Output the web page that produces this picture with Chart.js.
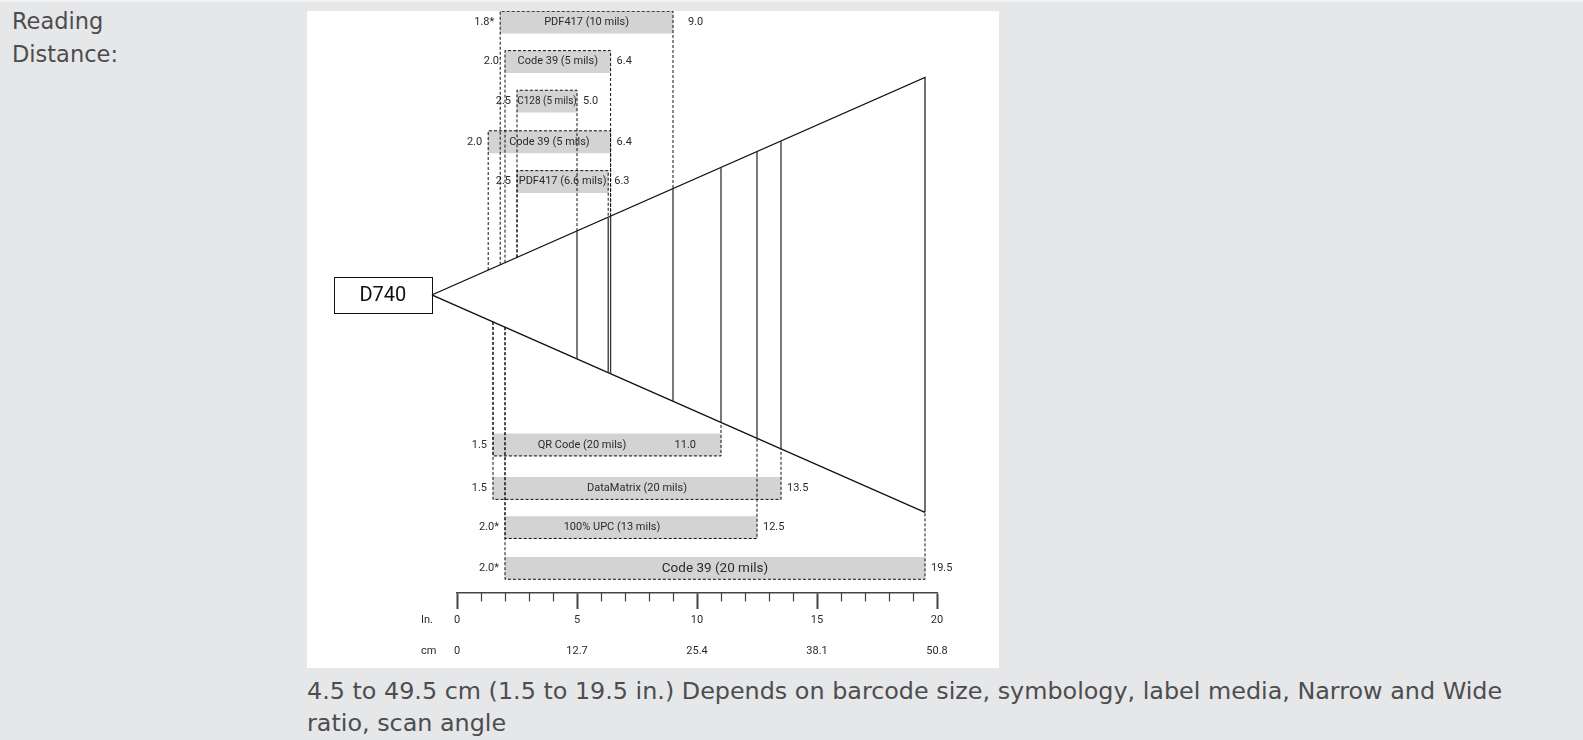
<!DOCTYPE html>
<html>
<head>
<meta charset="utf-8">
<title>Reading Distance</title>
<script src="https://cdn.jsdelivr.net/npm/chart.js@4.4.1/dist/chart.umd.min.js"></script>
<style>
    html, body { margin: 0; padding: 0; }
    body {
        width: 1583px;
        height: 740px;
        background: #e6e7e8;
        position: relative;
        overflow: hidden;
        font-family: "DejaVu Sans", sans-serif;
        color: #4d4d4f;
    }
    .top-band { position: absolute; left: 0; top: 0; width: 1583px; height: 2px; background: #f3f3f4; }
    .heading { position: absolute; left: 12px; top: 5px; font-size: 22.5px; line-height: 33px; }
    .chart-box { position: absolute; left: 307px; top: 11px; width: 692px; height: 657px; background: #fff; }
    .caption { position: absolute; left: 307px; top: 675px; width: 1240px; font-size: 23.85px; line-height: 32.4px; }
</style>
</head>
<body>
<div class="top-band"></div>
<div class="heading">Reading<br>Distance:</div>
<div class="chart-box"><canvas id="range-chart"></canvas></div>
<div class="caption">4.5 to 49.5 cm (1.5 to 19.5 in.) Depends on barcode size, symbology, label media, Narrow and Wide ratio, scan angle</div>

<script>
// Reading range per symbology (distances in inches)
const symbols = ['PDF417 (10 mils)', 'Code 39 (5 mils)', 'C128 (5 mils)', 'Code 39 (5 mils)', 'PDF417 (6.6 mils)',
                 'QR Code (20 mils)', 'DataMatrix (20 mils)', '100% UPC (13 mils)', 'Code 39 (20 mils)'];
const rowPos = [23.78, 22.14, 20.49, 18.80, 17.14, 6.17, 4.36, 2.73, 1.03];
const nearRange = [1.8, 2.0, 2.5, 1.3, 2.5, 1.5, 1.5, 2.0, 2.0];
const farRange = [9.0, 6.4, 5.0, 6.4, 6.3, 11.0, 13.5, 12.5, 19.5];
const nearLabels = ['1.8*', '2.0', '2.5', '2.0', '2.5', '1.5', '1.5', '2.0*', '2.0*'];
const farLabels = ['9.0', '6.4', '5.0', '6.4', '6.3', '11.0', '13.5', '12.5', '19.5'];

// Axis labels
const inchTicks = [0, 5, 10, 15, 20];
const cmTicks = ['0', '12.7', '25.4', '38.1', '50.8'];

// Scan beam: apex, far end and half width at the far end
const beamApex = [-1.05, 12.42];
const beamEnd = 19.5;
const beamHalf = 9.06;

// Styling
const BAR_GRAY = '#d3d3d4';
const TEXT = '#2b2b2b';
const BAR_PX = 22;
const BAR_HALF = 11 / 24;
const NAME_SIZE = { 2: 10, 8: 13.5 };
const NAME_SHIFT = { 5: -25, 7: -19 };
const FAR_GAP = { 0: 15 };
const FAR_INSIDE = { 5: 25 };

function beamEdge(x, side) {
    return beamApex[1] + side * beamHalf * (x - beamApex[0]) / (beamEnd - beamApex[0]);
}

function lineSet(points, opts) {
    return Object.assign({
        type: 'line',
        data: points,
        borderColor: '#111',
        borderWidth: 1,
        pointRadius: 0,
        fill: false,
        tension: 0,
        clip: false,
        order: 0
    }, opts);
}

// Build datasets
const datasets = [];

datasets.push({
    type: 'bar',
    indexAxis: 'y',
    data: rowPos.map((y, i) => ({ x: [nearRange[i], farRange[i]], y: y })),
    backgroundColor: BAR_GRAY,
    borderWidth: 0,
    barThickness: BAR_PX,
    order: 5
});

// Dashed brackets from each bar to the beam edge
rowPos.forEach((y, i) => {
    const above = y > beamApex[1];
    const side = above ? 1 : -1;
    const edgeY = above ? y + BAR_HALF : y - BAR_HALF;
    datasets.push(lineSet([
        { x: nearRange[i], y: beamEdge(nearRange[i], side) },
        { x: nearRange[i], y: edgeY },
        { x: farRange[i], y: edgeY },
        { x: farRange[i], y: beamEdge(farRange[i], side) }
    ], { borderDash: [3, 2], borderWidth: 1 }));
});

// Range arcs across the beam
const arcs = [...new Set(farRange)].filter(d => d < beamEnd);
arcs.forEach(d => {
    datasets.push(lineSet([
        { x: d, y: beamEdge(d, 1) },
        { x: d, y: beamEdge(d, -1) }
    ], { borderColor: '#333', borderWidth: 1.3 }));
});

// Beam outline
datasets.push(lineSet([
    { x: beamEnd, y: beamEdge(beamEnd, -1) },
    { x: beamApex[0], y: beamApex[1] },
    { x: beamEnd, y: beamEdge(beamEnd, 1) },
    { x: beamEnd, y: beamEdge(beamEnd, -1) }
], { borderColor: '#111', borderWidth: 1.2 }));

// Labels on and around the bars, scanner box, minor ticks
const barLabels = {
    id: 'barLabels',
    afterDatasetDraw(chart, args) {
        if (args.index !== 0) return;
        const { ctx, scales: { x, y } } = chart;
        ctx.save();
        ctx.fillStyle = TEXT;
        ctx.textBaseline = 'middle';
        rowPos.forEach((row, i) => {
            const py = y.getPixelForValue(row);
            const x0 = x.getPixelForValue(nearRange[i]);
            const x1 = x.getPixelForValue(farRange[i]);

            ctx.font = (NAME_SIZE[i] || 11) + 'px Roboto';
            ctx.textAlign = 'center';
            ctx.fillText(symbols[i], (x0 + x1) / 2 + (NAME_SHIFT[i] || 0), py);

            ctx.font = '11px Roboto';
            ctx.textAlign = 'right';
            ctx.fillText(nearLabels[i], x0 - 6, py);

            if (FAR_INSIDE[i]) {
                ctx.textAlign = 'right';
                ctx.fillText(farLabels[i], x1 - FAR_INSIDE[i], py);
            } else {
                ctx.textAlign = 'left';
                ctx.fillText(farLabels[i], x1 + (FAR_GAP[i] || 6), py);
            }
        });
        ctx.restore();
    },
    afterDraw(chart) {
        const { ctx, chartArea, scales: { x, y } } = chart;
        ctx.save();

        // Minor inch ticks
        ctx.strokeStyle = '#444';
        ctx.lineWidth = 1.2;
        for (let v = 0; v <= 20; v++) {
            if (v % 5 === 0) continue;
            const px = Math.round(x.getPixelForValue(v)) + 0.5;
            ctx.beginPath();
            ctx.moveTo(px, chartArea.bottom);
            ctx.lineTo(px, chartArea.bottom + 8.5);
            ctx.stroke();
        }

        // Unit names for the two label rows
        ctx.fillStyle = TEXT;
        ctx.font = '11px Roboto';
        ctx.textAlign = 'left';
        ctx.textBaseline = 'middle';
        const ux = x.getPixelForValue(-1.5);
        ctx.fillText('In.', ux, chartArea.bottom + 27);
        ctx.fillText('cm', ux, chartArea.bottom + 58.5);

        // Scanner box at the beam apex
        const bx0 = x.getPixelForValue(-5.125);
        const bx1 = x.getPixelForValue(beamApex[0]);
        const by0 = y.getPixelForValue(13.17);
        const by1 = y.getPixelForValue(11.67);
        ctx.fillStyle = '#fff';
        ctx.fillRect(bx0, by0, bx1 - bx0, by1 - by0);
        ctx.strokeStyle = '#111';
        ctx.lineWidth = 1;
        ctx.strokeRect(Math.round(bx0) + 0.5, Math.round(by0) + 0.5, Math.round(bx1 - bx0), Math.round(by1 - by0));
        ctx.fillStyle = '#111';
        ctx.font = '20px Roboto';
        ctx.textAlign = 'center';
        ctx.fillText('D740', (bx0 + bx1) / 2, (by0 + by1) / 2 + 1);

        ctx.restore();
    }
};

const ctx = document.getElementById('range-chart').getContext('2d');
new Chart(ctx, {
    type: 'bar',
    data: { datasets: datasets },
    plugins: [barLabels],
    options: {
        responsive: true,
        maintainAspectRatio: false,
        animation: false,
        events: [],
        layout: { padding: { left: 150, right: 62, top: 0, bottom: 0 } },
        plugins: {
            legend: { display: false },
            tooltip: { enabled: false }
        },
        scales: {
            x: {
                type: 'linear',
                position: 'bottom',
                min: 0,
                max: 20,
                offset: false,
                afterFit: scale => { scale.height = 75; },
                border: { display: true, color: '#444', width: 1.5 },
                grid: {
                    offset: false,
                    drawOnChartArea: false,
                    drawTicks: true,
                    tickLength: 16,
                    tickWidth: 2,
                    tickColor: c => (c.tick && c.tick.value % 5 === 0) ? '#444' : 'rgba(0,0,0,0)'
                },
                ticks: {
                    stepSize: 1,
                    autoSkip: false,
                    maxRotation: 0,
                    padding: -4.5,
                    color: TEXT,
                    font: { family: 'Roboto', size: 11, lineHeight: 31 / 11 },
                    callback: v => {
                        const k = inchTicks.indexOf(v);
                        return k < 0 ? '' : [String(v), cmTicks[k]];
                    }
                }
            },
            y: {
                type: 'linear',
                display: false,
                offset: false,
                grid: { offset: false },
                min: 0,
                max: 24.25
            }
        }
    }
});
</script>
</body>
</html>
